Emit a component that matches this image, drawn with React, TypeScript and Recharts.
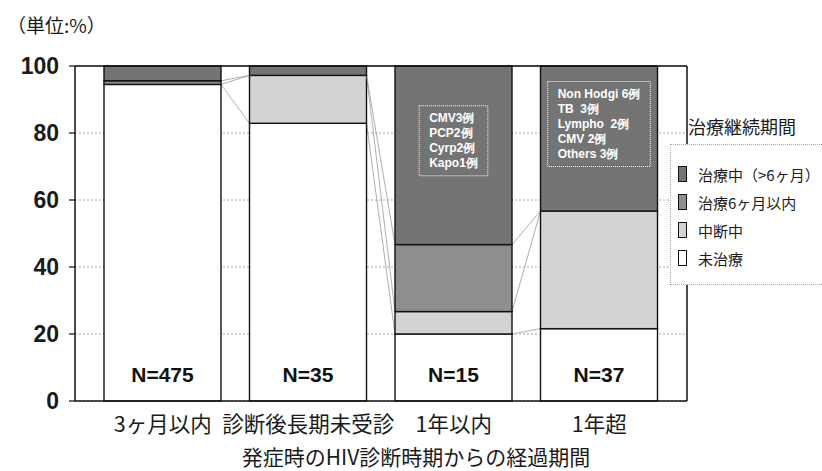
import React from 'react';
import { BarChart, Bar, XAxis, YAxis, CartesianGrid, LabelList, Legend } from 'recharts';

const categories = ['3ヶ月以内', '診断後長期未受診', '1年以内', '1年超'];
const sampleSizes = [475, 35, 15, 37];
// shares (%) per treatment state, bottom to top of each stack
const untreated = [94.5, 82.9, 20.0, 21.6];
const suspended = [0, 14.3, 6.7, 35.1];
const within6m = [1.1, 0, 20.0, 0];
const ongoing = [4.4, 2.8, 53.3, 43.3];
const caseNotes = [
  [],
  [],
  ['CMV3例', 'PCP2例', 'Cyrp2例', 'Kapo1例'],
  ['Non Hodgi 6例', 'TB  3例', 'Lympho  2例', 'CMV 2例', 'Others 3例'],
];
const yTicks = [0, 20, 40, 60, 80, 100];

const series = [
  { key: 'untreated', name: '未治療', fill: '#ffffff' },
  { key: 'suspended', name: '中断中', fill: '#d3d3d3' },
  { key: 'within6m', name: '治療6ヶ月以内', fill: '#8e8e8e' },
  { key: 'ongoing', name: '治療中（>6ヶ月）', fill: '#747474' },
];

const rows = categories.map((name, i) => ({
  name,
  n: sampleSizes[i],
  untreated: untreated[i],
  suspended: suspended[i],
  within6m: within6m[i],
  ongoing: ongoing[i],
}));

const JP = '"Noto Sans CJK JP", "Noto Sans", sans-serif';
const SANS = '"Liberation Sans", Arial, sans-serif';

const W = 822;
const H = 471;
// top/right axes are 1px boxes that only draw the plot frame
const MARGIN = { top: 65, right: 134, bottom: 10, left: 0 };
const Y_AXIS_W = 75;
const X_AXIS_H = 60;
const PAD = 15;
const BAR = 117;
const BAND = (W - MARGIN.left - MARGIN.right - 1 - Y_AXIS_W - PAD * 2) / categories.length;

const cumulative = (row: any, level: number) =>
  series.slice(0, level + 1).reduce((s, d) => s + row[d.key], 0);

// stacked segment plus the thin series line running to the next column
const segmentShape = (level: number) => (props: any) => {
  const { x, y, width, height, index, fill, background } = props;
  const top = Math.min(y, y + height);
  const h = Math.abs(height);
  const plotTop = background?.y ?? MARGIN.top + 1;
  const plotH = background?.height ?? H - MARGIN.top - 1 - MARGIN.bottom - X_AXIS_H;
  const toPx = (v: number) => plotTop + plotH * (1 - v / 100);
  const next = rows[index + 1];
  return (
    <g>
      {next && (
        <line
          x1={x + width}
          y1={toPx(cumulative(rows[index], level))}
          x2={x + width + (BAND - BAR)}
          y2={toPx(cumulative(next, level))}
          stroke="#9a9a9a"
          strokeWidth={0.8}
        />
      )}
      {h > 0 && <rect x={x} y={top} width={width} height={h} fill={fill} stroke="#111" strokeWidth={1.4} />}
    </g>
  );
};

let measureCtx: CanvasRenderingContext2D | null = null;
const textWidth = (s: string, font: string) => {
  if (!measureCtx) measureCtx = document.createElement('canvas').getContext('2d');
  if (!measureCtx) return s.length * 7;
  measureCtx.font = font;
  return measureCtx.measureText(s).width;
};

const SampleLabel = (props: any) => {
  const { x, y, width, height, value } = props;
  return (
    <text
      x={x + width / 2}
      y={y + height - 19}
      textAnchor="middle"
      fontFamily={SANS}
      fontWeight={700}
      fontSize={21}
      fill="#111"
    >
      N={value}
    </text>
  );
};

const CaseNote = (props: any) => {
  const { x, y, width, height, index } = props;
  const lines = caseNotes[index];
  if (!lines || !lines.length) return null;
  const font = `bold 12px ${SANS}`;
  const boxW = Math.max(...lines.map((l) => textWidth(l, font))) + 20;
  const boxH = lines.length * 15 + 10;
  const cy = y + height / 2 - 14.5;
  const bx = x + width / 2 - boxW / 2;
  const by = cy - boxH / 2;
  return (
    <g>
      <rect x={bx} y={by} width={boxW} height={boxH} fill="none" stroke="#fff" strokeWidth={1} strokeDasharray="1 1" />
      {lines.map((l, i) => (
        <text
          key={i}
          x={bx + 10}
          y={by + 16.5 + i * 15}
          fontFamily={SANS}
          fontWeight={700}
          fontSize={12}
          fill="#fff"
          style={{ whiteSpace: 'pre' }}
        >
          {l}
        </text>
      ))}
    </g>
  );
};

const CategoryTick = ({ x, y, payload }: any) => (
  <text x={x} y={y} dy={23} textAnchor="middle" fontFamily={JP} fontSize={21.5} fill="#1a1a1a">
    {payload.value}
  </text>
);

const AxisTitle = ({ viewBox }: any) => (
  <text
    x={viewBox.x + viewBox.width / 2 + 35}
    y={viewBox.y + 64}
    textAnchor="middle"
    fontFamily={JP}
    fontSize={21}
    fill="#1a1a1a"
  >
    発症時のHIV診断時期からの経過期間
  </text>
);

const LegendBox = () => (
  <div style={{ fontFamily: JP, color: '#1a1a1a' }}>
    <div style={{ marginLeft: 18, fontSize: 18, lineHeight: '28px', height: 28, whiteSpace: 'nowrap' }}>
      治療継続期間
    </div>
    <div
      style={{
        marginTop: 4,
        width: 170,
        height: 141,
        boxSizing: 'border-box',
        border: '1px dotted #aaa',
        background: '#fff',
        paddingTop: 15,
      }}
    >
      {[...series].reverse().map((s) => (
        <div key={s.key} style={{ display: 'flex', alignItems: 'center', height: 28 }}>
          <span
            style={{
              display: 'inline-block',
              width: 9,
              height: 16,
              marginLeft: 7,
              marginRight: 11,
              boxSizing: 'border-box',
              border: '1.5px solid #111',
              background: s.fill,
            }}
          />
          <span style={{ fontSize: 15, whiteSpace: 'nowrap' }}>{s.name}</span>
        </div>
      ))}
    </div>
  </div>
);

export default function App() {
  return (
    <div style={{ position: 'absolute', left: 0, top: 0, width: W, height: H, overflow: 'hidden', background: '#fff' }}>
      <div style={{ position: 'absolute', left: 7, top: 11, fontFamily: JP, fontSize: 19, color: '#1a1a1a', zIndex: 2 }}>
        （単位:%）
      </div>
      <BarChart width={W} height={H} data={rows} margin={MARGIN}>
        <CartesianGrid vertical={false} stroke="#a8a8a8" strokeDasharray="2 2" />
        <XAxis
          dataKey="name"
          height={X_AXIS_H}
          interval={0}
          tickLine={false}
          axisLine={{ stroke: '#111', strokeWidth: 1.5 }}
          padding={{ left: PAD, right: PAD }}
          tick={<CategoryTick />}
          label={<AxisTitle />}
        />
        <XAxis
          xAxisId="top"
          dataKey="name"
          orientation="top"
          height={1}
          tick={false}
          tickLine={false}
          axisLine={{ stroke: '#111', strokeWidth: 1.5 }}
        />
        <YAxis
          width={Y_AXIS_W}
          domain={[0, 100]}
          ticks={yTicks}
          interval={0}
          tickSize={6}
          tickMargin={10}
          axisLine={{ stroke: '#111', strokeWidth: 1.5 }}
          tickLine={{ stroke: '#111', strokeWidth: 1.2 }}
          tick={{ fontFamily: SANS, fontWeight: 700, fontSize: 23, fill: '#1a1a1a' }}
        />
        <YAxis
          yAxisId="right"
          orientation="right"
          width={1}
          domain={[0, 100]}
          tick={false}
          tickLine={false}
          axisLine={{ stroke: '#111', strokeWidth: 1.5 }}
        />
        {series.map((s, i) => (
          <Bar
            key={s.key}
            dataKey={s.key}
            name={s.name}
            stackId="a"
            fill={s.fill}
            barSize={BAR}
            shape={segmentShape(i)}
            isAnimationActive={false}
          >
            {s.key === 'untreated' && <LabelList dataKey="n" content={<SampleLabel />} />}
            {s.key === 'ongoing' && <LabelList dataKey="ongoing" content={<CaseNote />} />}
          </Bar>
        ))}
        <Legend
          layout="horizontal"
          verticalAlign="middle"
          align="center"
          content={<LegendBox />}
          wrapperStyle={{ position: 'absolute', left: 670, top: 112, width: 170, height: 173 }}
        />
      </BarChart>
    </div>
  );
}
